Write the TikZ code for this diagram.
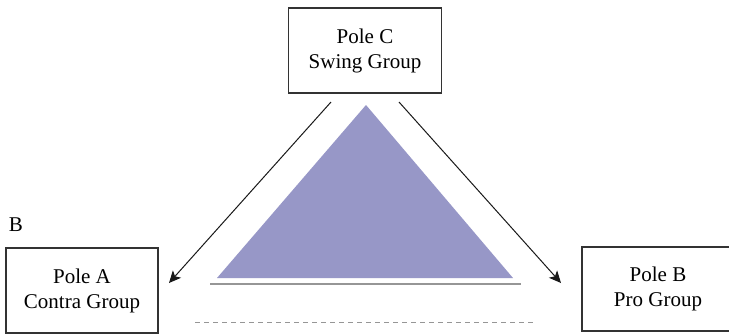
\documentclass[tikz,border=0pt]{standalone}
\usepackage{fontspec}
\setmainfont{Liberation Serif}
\usetikzlibrary{arrows.meta}
\definecolor{tri}{RGB}{151,151,199}
\definecolor{lgray}{RGB}{150,150,150}
\tikzset{
  polebox/.style={draw=black!80, line width=1.2pt, minimum width=153pt, minimum height=85pt,
    align=center, font=\fontsize{21}{25}\selectfont, inner sep=0pt},
  conn/.style={draw=black!90, line width=1pt, -{Stealth[length=12pt,width=11pt,inset=3pt]}},
}
\begin{document}
\begin{tikzpicture}[x=1pt,y=-1pt]
\useasboundingbox (0,0) rectangle (729,333);
\fill[white] (0,0) rectangle (729,333);
\node[polebox] (C) at (365,50.5) {Pole C\\Swing Group};
\node[polebox, minimum width=152pt] (A) at (82,290.5) {Pole A\\Contra Group};
\node[polebox, minimum width=152pt, minimum height=84pt] (Bx) at (658,289) {Pole B\\Pro Group};
\node[font=\fontsize{21}{25}\selectfont, inner sep=0pt] (Blabel) at (16,225) {B};
\coordinate (cl) at (331,102);
\coordinate (al) at (169,283);
\coordinate (cr) at (399,102);
\coordinate (br) at (561,283);
\draw[conn] (cl) -- (al);
\draw[conn] (cr) -- (br);
\fill[tri] (366,105) -- (513,278) -- (217,278) -- cycle;
\coordinate (l1) at (210,284);
\coordinate (l2) at (521,284);
\draw[lgray, line width=1.4pt] (l1) -- (l2);
\coordinate (d1) at (195,322);
\coordinate (d2) at (535,322);
\draw[lgray, line width=0.9pt, dash pattern=on 5pt off 4pt] (d1) -- (d2);
\end{tikzpicture}
\end{document}
